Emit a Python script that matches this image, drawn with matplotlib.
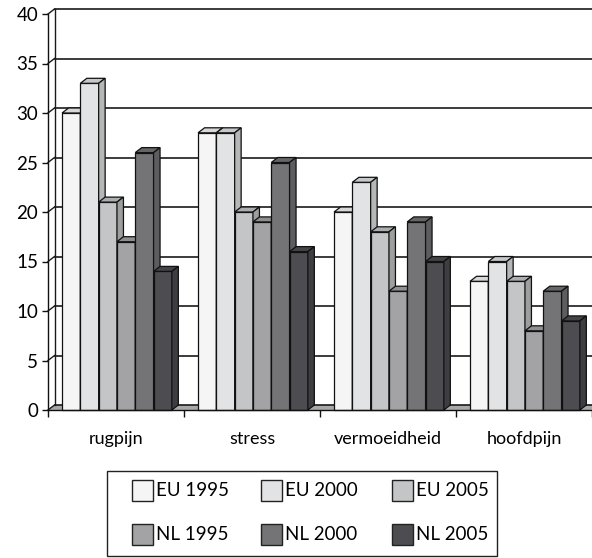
import matplotlib.pyplot as plt
from matplotlib.patches import Rectangle, Polygon
import numpy as np

plt.rcParams['font.family'] = ['Lato', 'DejaVu Sans']

categories = ['rugpijn', 'stress', 'vermoeidheid', 'hoofdpijn']
series = ['EU 1995', 'EU 2000', 'EU 2005', 'NL 1995', 'NL 2000', 'NL 2005']
values = [
    [30, 33, 21, 17, 26, 14],   # rugpijn
    [28, 28, 20, 19, 25, 16],   # stress
    [20, 23, 18, 12, 19, 15],   # vermoeidheid
    [13, 15, 13, 8, 12, 9],     # hoofdpijn
]
colors = ['#f4f5f4', '#e2e3e4', '#c4c5c6', '#a3a3a5', '#747477', '#4d4c51']
yticks = list(range(0, 41, 5))


def shade(c, f):
    r, g, b = [int(c[i:i + 2], 16) / 255 for i in (1, 3, 5)]
    return (r * f, g * f, b * f)


W, H = 592, 558
fig = plt.figure(figsize=(W / 100, H / 100), dpi=100)
fig.patch.set_facecolor('white')

# front plane of the plot: x 48..592 px, y 410..14 px
ax = fig.add_axes([48 / W, (H - 410) / H, 544 / W, 396 / H])
ax.set_xlim(0, len(categories))
ax.set_ylim(0, 40)
ax.patch.set_visible(False)

# depth of the 3d effect, in data units
dx = 6.5 / 136
dy = 5 / 9.9

# floor
ax.add_patch(Polygon([(0, 0), (4, 0), (4 + dx, dy), (dx, dy)], closed=True,
                     facecolor='#a8a8a8', edgecolor='none', clip_on=False, zorder=1))

# gridlines on the back wall and the left wall
for v in yticks:
    ax.plot([dx, 4 + dx], [v + dy, v + dy], color='#1a1a1a', lw=1.2,
            clip_on=False, zorder=2)
    ax.plot([0, dx], [v, v + dy], color='#1a1a1a', lw=1.0, clip_on=False, zorder=2)
ax.plot([dx, dx], [dy, 40 + dy], color='#1a1a1a', lw=1.0, clip_on=False, zorder=2)

# bars: front, top and side faces, left to right
w = 18.3 / 136
for k, row in enumerate(values):
    start = k + (1 - len(series) * w) / 2 + 0.007
    for j, v in enumerate(row):
        x0 = start + j * w
        c = colors[j]
        ax.add_patch(Rectangle((x0, 0), w, v, facecolor=c, edgecolor='#111111',
                               lw=0.9, clip_on=False, zorder=3))
        ax.add_patch(Polygon([(x0, v), (x0 + dx, v + dy), (x0 + w + dx, v + dy), (x0 + w, v)],
                             closed=True, facecolor=shade(c, 0.88), edgecolor='#111111',
                             lw=0.9, clip_on=False, zorder=3))
        ax.add_patch(Polygon([(x0 + w, 0), (x0 + w, v), (x0 + w + dx, v + dy), (x0 + w + dx, dy)],
                             closed=True, facecolor=shade(c, 0.8), edgecolor='#111111',
                             lw=0.9, clip_on=False, zorder=3))

for s in ['top', 'right']:
    ax.spines[s].set_visible(False)
for s in ['left', 'bottom']:
    ax.spines[s].set_color('#111111')
    ax.spines[s].set_linewidth(1.0)
    ax.spines[s].set_zorder(4)

ax.set_yticks(yticks)
ax.set_yticklabels([str(t) for t in yticks], fontsize=13.5)
ax.tick_params(axis='y', length=4, width=1.0, pad=3, color='#111111')

ax.set_xticks(np.arange(len(categories)) + 0.5)
ax.set_xticklabels(categories, fontsize=13)
ax.set_xticks(np.arange(len(categories) + 1), minor=True)
ax.tick_params(axis='x', which='major', length=0, pad=15)
ax.tick_params(axis='x', which='minor', length=5, width=1.0, color='#111111')

# legend, drawn in pixel coordinates
lax = fig.add_axes([0, 0, 1, 1])
lax.set_xlim(0, W)
lax.set_ylim(H, 0)
lax.axis('off')
lax.add_patch(Rectangle((107, 471), 390, 85, facecolor='white', edgecolor='#222222', lw=1.0))
col_x = [132, 261, 392]
row_y = [490, 534]
for i, name in enumerate(series):
    x = col_x[i % 3]
    y = row_y[i // 3]
    lax.add_patch(Rectangle((x, y - 10.5), 21, 21, facecolor=colors[i],
                            edgecolor='#222222', lw=1.0))
    lax.text(x + 24, y, name, fontsize=13.5, va='center', ha='left')

fig.savefig('out.png', dpi=100)
